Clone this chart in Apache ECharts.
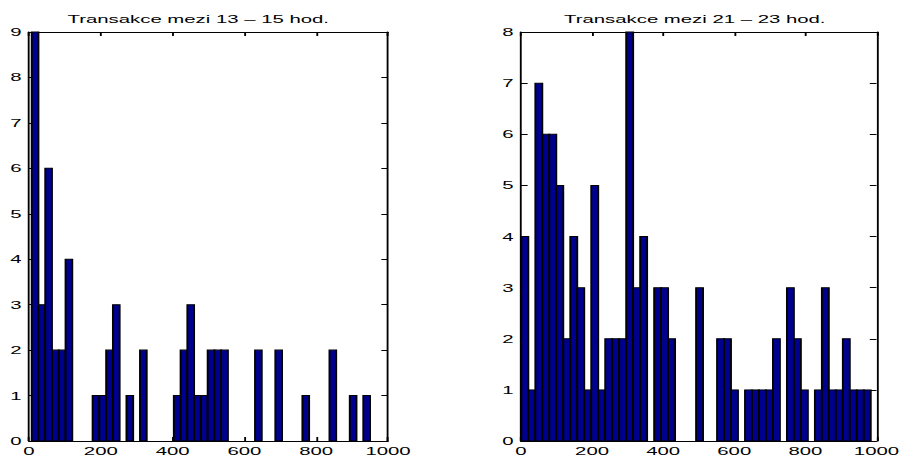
<!DOCTYPE html>
<html>
<head>
<meta charset="utf-8">
<title>Transakce</title>
<script src="https://cdn.jsdelivr.net/npm/echarts@6/dist/echarts.min.js"></script>
<style>
  html, body { margin: 0; padding: 0; background: #fff; overflow: hidden; }
  #wrap { width: 904px; height: 459px; overflow: hidden; }
  #chart { height: 459px; transform-origin: 0 0; }
</style>
</head>
<body>
<div id="wrap"><div id="chart"></div></div>
<script>
// Histogram data: 50 equal-width bins spanning each range, counts per bin.
const leftTitle = 'Transakce mezi 13 – 15 hod.';
const leftRange = [7.5, 950];
const leftCounts = [
  9, 3, 6, 2, 2, 4, 0, 0, 0, 1,
  1, 2, 3, 0, 1, 0, 2, 0, 0, 0,
  0, 1, 2, 3, 1, 1, 2, 2, 2, 0,
  0, 0, 0, 2, 0, 0, 2, 0, 0, 0,
  1, 0, 0, 0, 2, 0, 0, 1, 0, 1
];

const rightTitle = 'Transakce mezi 21 – 23 hod.';
const rightRange = [1, 984];
const rightCounts = [
  4, 1, 7, 6, 6, 5, 2, 4, 3, 1,
  5, 1, 2, 2, 2, 8, 3, 4, 0, 3,
  3, 2, 0, 0, 0, 3, 0, 0, 2, 2,
  1, 0, 1, 1, 1, 1, 2, 0, 3, 2,
  1, 0, 1, 3, 1, 1, 2, 1, 1, 1
];

const xTicks = [0, 200, 400, 600, 800, 1000];
const leftYMax = 9;
const rightYMax = 8;

// The figure is drawn on a narrower canvas and stretched horizontally,
// giving the wide lettering and the heavier vertical strokes.
const S = 1.85;
const W = 904 / S;
const FONT = "'Liberation Sans', Arial, Helvetica, sans-serif";
const FS = 11;
const BAR = '#00008F';

const el = document.getElementById('chart');
el.style.width = W + 'px';
el.style.transform = 'scaleX(' + S + ')';

function bins(range, counts) {
  const w = (range[1] - range[0]) / counts.length;
  return counts.map((c, i) => [range[0] + i * w, range[0] + (i + 1) * w, c]);
}

function renderBin(params, api) {
  const c = api.value(2);
  if (!c) return null;
  const p0 = api.coord([api.value(0), c]);
  const p1 = api.coord([api.value(1), 0]);
  return {
    type: 'rect',
    shape: { x: p0[0], y: p0[1], width: p1[0] - p0[0], height: p1[1] - p0[1] },
    style: { fill: BAR, stroke: '#000', lineWidth: 1 }
  };
}

const plain = v => String(v);

function xAxisPair(gridIndex) {
  const base = {
    gridIndex,
    type: 'value',
    min: xTicks[0],
    max: xTicks[xTicks.length - 1],
    interval: xTicks[1] - xTicks[0],
    axisLine: { show: true, onZero: false, lineStyle: { color: '#000', width: 1 } },
    axisTick: { show: true, inside: true, length: 4, lineStyle: { color: '#000', width: 1 } },
    splitLine: { show: false }
  };
  return [
    Object.assign({}, base, {
      position: 'bottom',
      axisLabel: { show: true, color: '#000', fontSize: FS, fontFamily: FONT, margin: 4, formatter: plain }
    }),
    Object.assign({}, base, { position: 'top', axisLabel: { show: false } })
  ];
}

function yAxisPair(gridIndex, max) {
  const base = {
    gridIndex,
    type: 'value',
    min: 0,
    max: max,
    interval: 1,
    axisLine: { show: true, onZero: false, lineStyle: { color: '#000', width: 1 } },
    axisTick: { show: true, inside: true, length: 3.6, lineStyle: { color: '#000', width: 1 } },
    splitLine: { show: false }
  };
  return [
    Object.assign({}, base, {
      position: 'left',
      axisLabel: { show: true, color: '#000', fontSize: FS, fontFamily: FONT, margin: 4, formatter: plain }
    }),
    Object.assign({}, base, { position: 'right', axisLabel: { show: false } })
  ];
}

const chart = echarts.init(el, null, { renderer: 'svg' });

chart.setOption({
  backgroundColor: '#fff',
  animation: false,
  title: [
    {
      text: leftTitle, left: 189 / S, top: 8, textAlign: 'center',
      textStyle: { fontSize: FS, fontWeight: 'normal', color: '#000', fontFamily: FONT }
    },
    {
      text: rightTitle, left: 685.5 / S, top: 8, textAlign: 'center',
      textStyle: { fontSize: FS, fontWeight: 'normal', color: '#000', fontFamily: FONT }
    }
  ],
  grid: [
    { left: 29 / S, width: 359 / S, top: 32, bottom: 18, containLabel: false },
    { left: 521 / S, width: 359 / S, top: 32, bottom: 18, containLabel: false }
  ],
  xAxis: [...xAxisPair(0), ...xAxisPair(1)],
  yAxis: [...yAxisPair(0, leftYMax), ...yAxisPair(1, rightYMax)],
  series: [
    {
      type: 'custom', name: leftTitle, xAxisIndex: 0, yAxisIndex: 0,
      renderItem: renderBin, encode: { x: [0, 1], y: 2 },
      data: bins(leftRange, leftCounts)
    },
    {
      type: 'custom', name: rightTitle, xAxisIndex: 2, yAxisIndex: 2,
      renderItem: renderBin, encode: { x: [0, 1], y: 2 },
      data: bins(rightRange, rightCounts)
    }
  ]
});
</script>
</body>
</html>
